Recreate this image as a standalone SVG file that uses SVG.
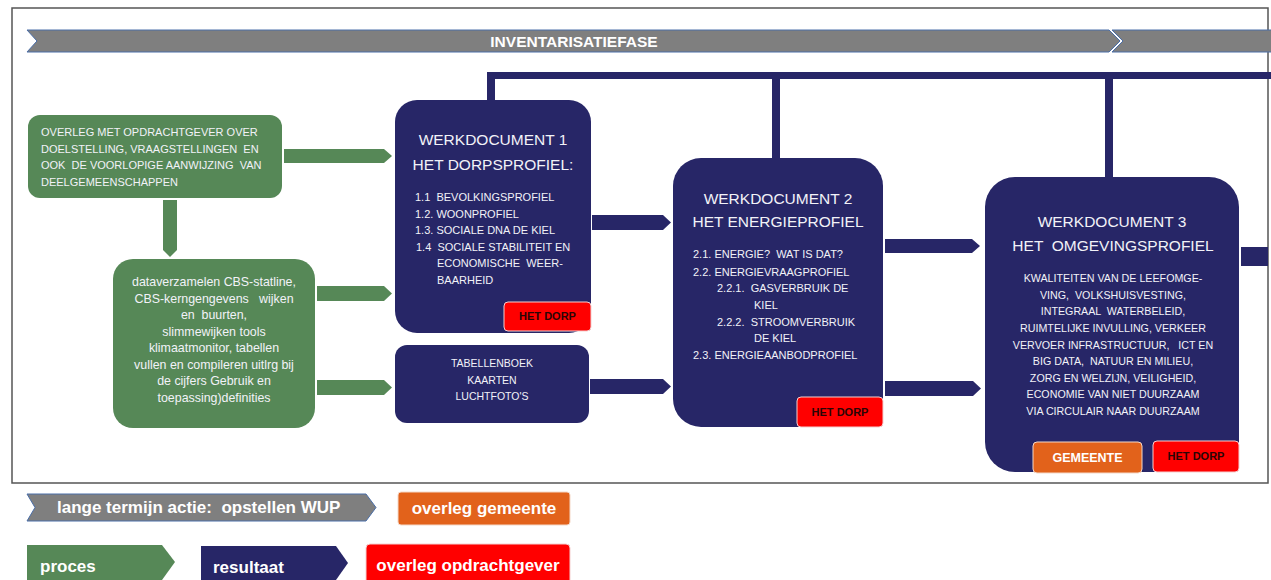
<svg xmlns="http://www.w3.org/2000/svg" width="1271" height="580" viewBox="0 0 1271 580">
<defs>
<style>
.g{fill:#568857}
.n{fill:#272667}
.bn{fill:#7f7f7f;stroke:#4a6ea8;stroke-width:1}
.t{font-family:"Liberation Sans",Arial,sans-serif;fill:#f2f2f8}
.ti{font-size:15.5px;text-anchor:middle}
.it{font-size:11px}
.c{text-anchor:middle}
.b{font-weight:bold}
.red{fill:#ff0000;stroke:#f4d0d0;stroke-width:1}
.org{fill:#e2621b;stroke:#f4d8c8;stroke-width:1}
.dk{font-family:"Liberation Sans",Arial,sans-serif;font-weight:bold;fill:#2a0505;font-size:11px;text-anchor:middle}
.lg{font-family:"Liberation Sans",Arial,sans-serif;font-weight:bold;fill:#ffffff;font-size:17px}
</style>
</defs>
<rect x="0" y="0" width="1271" height="580" fill="#ffffff"/>
<rect x="12" y="8" width="1256" height="475" fill="none" stroke="#555555" stroke-width="1.5"/>

<g id="banner">
<polygon class="bn" points="27,30 1109,30 1120,41 1109,52 27,52 37,41"/>
<polygon class="bn" points="1112,30 1272,30 1272,52 1112,52 1123,41"/>
<text class="lg" x="574" y="47" text-anchor="middle" style="font-size:15.5px">INVENTARISATIEFASE</text>
</g>

<g id="connectors">
<rect class="n" x="487" y="72" width="784" height="7"/>
<rect class="n" x="487" y="72" width="8" height="29"/>
<rect class="n" x="772" y="72" width="8" height="87"/>
<rect class="n" x="1105" y="72" width="8" height="106"/>
<path class="g" d="M284,149 H384 L392,156 L384,163 H284 Z"/>
<path class="g" d="M317,286 H384 L392,293.5 L384,301 H317 Z"/>
<path class="g" d="M317,380 H384 L392,387.5 L384,395 H317 Z"/>
<path class="g" d="M163,200 H177 V250 L170,257 L163,250 Z"/>
<path class="n" d="M592,215 H663 L671,222.5 L663,230 H592 Z"/>
<path class="n" d="M590,379 H663 L671,386.5 L663,394 H590 Z"/>
<path class="n" d="M885,239 H972 L980,246 L972,253 H885 Z"/>
<path class="n" d="M885,381 H973 L981,388.5 L973,396 H885 Z"/>
<rect class="n" x="1241" y="247" width="27" height="19"/>
</g>

<g id="overleg">
<rect class="g" x="28" y="115" width="254" height="83" rx="12"/>
<g class="t" style="font-size:11px">
<text x="41" y="136">OVERLEG MET OPDRACHTGEVER OVER</text>
<text x="41" y="153" xml:space="preserve">DOELSTELLING, VRAAGSTELLINGEN  EN</text>
<text x="41" y="169" xml:space="preserve">OOK  DE VOORLOPIGE AANWIJZING  VAN</text>
<text x="41" y="186">DEELGEMEENSCHAPPEN</text>
</g>
</g>

<g id="dataverzamelen">
<rect class="g" x="113" y="259" width="202" height="169" rx="20"/>
<g class="t c" style="font-size:12.4px">
<text x="214" y="286">dataverzamelen CBS-statline,</text>
<text x="214" y="302.5" xml:space="preserve">CBS-kerngengevens   wijken</text>
<text x="214" y="319" xml:space="preserve">en  buurten,</text>
<text x="214" y="335.5">slimmewijken tools</text>
<text x="214" y="352">klimaatmonitor, tabellen</text>
<text x="214" y="368.5">vullen en compileren uitlrg bij</text>
<text x="214" y="385">de cijfers Gebruik en</text>
<text x="214" y="401.5">toepassing)definities</text>
</g>
</g>

<g id="werkdocument1">
<rect class="n" x="395" y="100" width="196" height="233" rx="22"/>
<text class="t ti" x="493" y="145">WERKDOCUMENT 1</text>
<text class="t ti" x="493" y="170">HET DORPSPROFIEL:</text>
<g class="t it">
<text x="415" y="201" xml:space="preserve">1.1  BEVOLKINGSPROFIEL</text>
<text x="415" y="218">1.2. WOONPROFIEL</text>
<text x="415" y="234">1.3. SOCIALE DNA DE KIEL</text>
<text x="416" y="251" xml:space="preserve">1.4  SOCIALE STABILITEIT EN</text>
<text x="437" y="267" xml:space="preserve">ECONOMISCHE  WEER-</text>
<text x="437" y="284">BAARHEID</text>
</g>
<rect class="red" x="504" y="302" width="87" height="29" rx="4"/>
<text class="dk" x="547.5" y="320">HET DORP</text>
</g>

<g id="tabellenboek">
<rect class="n" x="395" y="345" width="194" height="78" rx="12"/>
<g class="t c" style="font-size:10.5px">
<text x="492" y="367">TABELLENBOEK</text>
<text x="492" y="384">KAARTEN</text>
<text x="492" y="400">LUCHTFOTO'S</text>
</g>
</g>

<g id="werkdocument2">
<rect class="n" x="673" y="158" width="210" height="269" rx="28"/>
<text class="t ti" x="778" y="204">WERKDOCUMENT 2</text>
<text class="t ti" x="778" y="227">HET ENERGIEPROFIEL</text>
<g class="t it">
<text x="693" y="258" xml:space="preserve">2.1. ENERGIE?  WAT IS DAT?</text>
<text x="693" y="276">2.2. ENERGIEVRAAGPROFIEL</text>
<text x="717" y="292" xml:space="preserve">2.2.1.  GASVERBRUIK DE</text>
<text x="754" y="309">KIEL</text>
<text x="717" y="326" xml:space="preserve">2.2.2.  STROOMVERBRUIK</text>
<text x="754" y="342">DE KIEL</text>
<text x="693" y="359">2.3. ENERGIEAANBODPROFIEL</text>
</g>
<rect class="red" x="797" y="397" width="86" height="30" rx="4"/>
<text class="dk" x="840" y="416">HET DORP</text>
</g>

<g id="werkdocument3">
<rect class="n" x="985" y="177" width="254" height="295" rx="30"/>
<text class="t ti" x="1112" y="227">WERKDOCUMENT 3</text>
<text class="t ti" x="1113" y="251" xml:space="preserve">HET  OMGEVINGSPROFIEL</text>
<g class="t c" style="font-size:10.7px">
<text x="1113" y="282">KWALITEITEN VAN DE LEEFOMGE-</text>
<text x="1113" y="299" xml:space="preserve">VING,  VOLKSHUISVESTING,</text>
<text x="1113" y="315" xml:space="preserve">INTEGRAAL  WATERBELEID,</text>
<text x="1113" y="332">RUIMTELIJKE INVULLING, VERKEER</text>
<text x="1113" y="348.5" xml:space="preserve">VERVOER INFRASTRUCTUUR,   ICT EN</text>
<text x="1113" y="365" xml:space="preserve">BIG DATA,  NATUUR EN MILIEU,</text>
<text x="1113" y="382">ZORG EN WELZIJN, VEILIGHEID,</text>
<text x="1113" y="398">ECONOMIE VAN NIET DUURZAAM</text>
<text x="1113" y="415">VIA CIRCULAIR NAAR DUURZAAM</text>
</g>
<rect class="org" x="1033" y="442" width="109" height="31" rx="4"/>
<text class="lg" x="1087.5" y="462" text-anchor="middle" style="font-size:12.5px">GEMEENTE</text>
<rect class="red" x="1153" y="441" width="86" height="31" rx="4"/>
<text class="dk" x="1196" y="460">HET DORP</text>
</g>

<g id="legend">
<polygon class="bn" points="27,494 366,494 376,507.5 366,521 27,521 35,507.5"/>
<text class="lg" x="57" y="513" xml:space="preserve">lange termijn actie:  opstellen WUP</text>
<rect class="org" x="398" y="492" width="172" height="33" rx="3"/>
<text class="lg" x="484" y="514" text-anchor="middle">overleg gemeente</text>
<polygon class="g" points="27,545 162,545 175,562 162,580 27,580"/>
<text class="lg" x="40" y="572">proces</text>
<polygon class="n" points="201,546 336,546 348,563 336,580 201,580"/>
<text class="lg" x="213" y="573">resultaat</text>
<rect class="red" x="366" y="544" width="204" height="40" rx="4"/>
<text class="lg" x="468" y="571" text-anchor="middle">overleg opdrachtgever</text>
</g>
</svg>
